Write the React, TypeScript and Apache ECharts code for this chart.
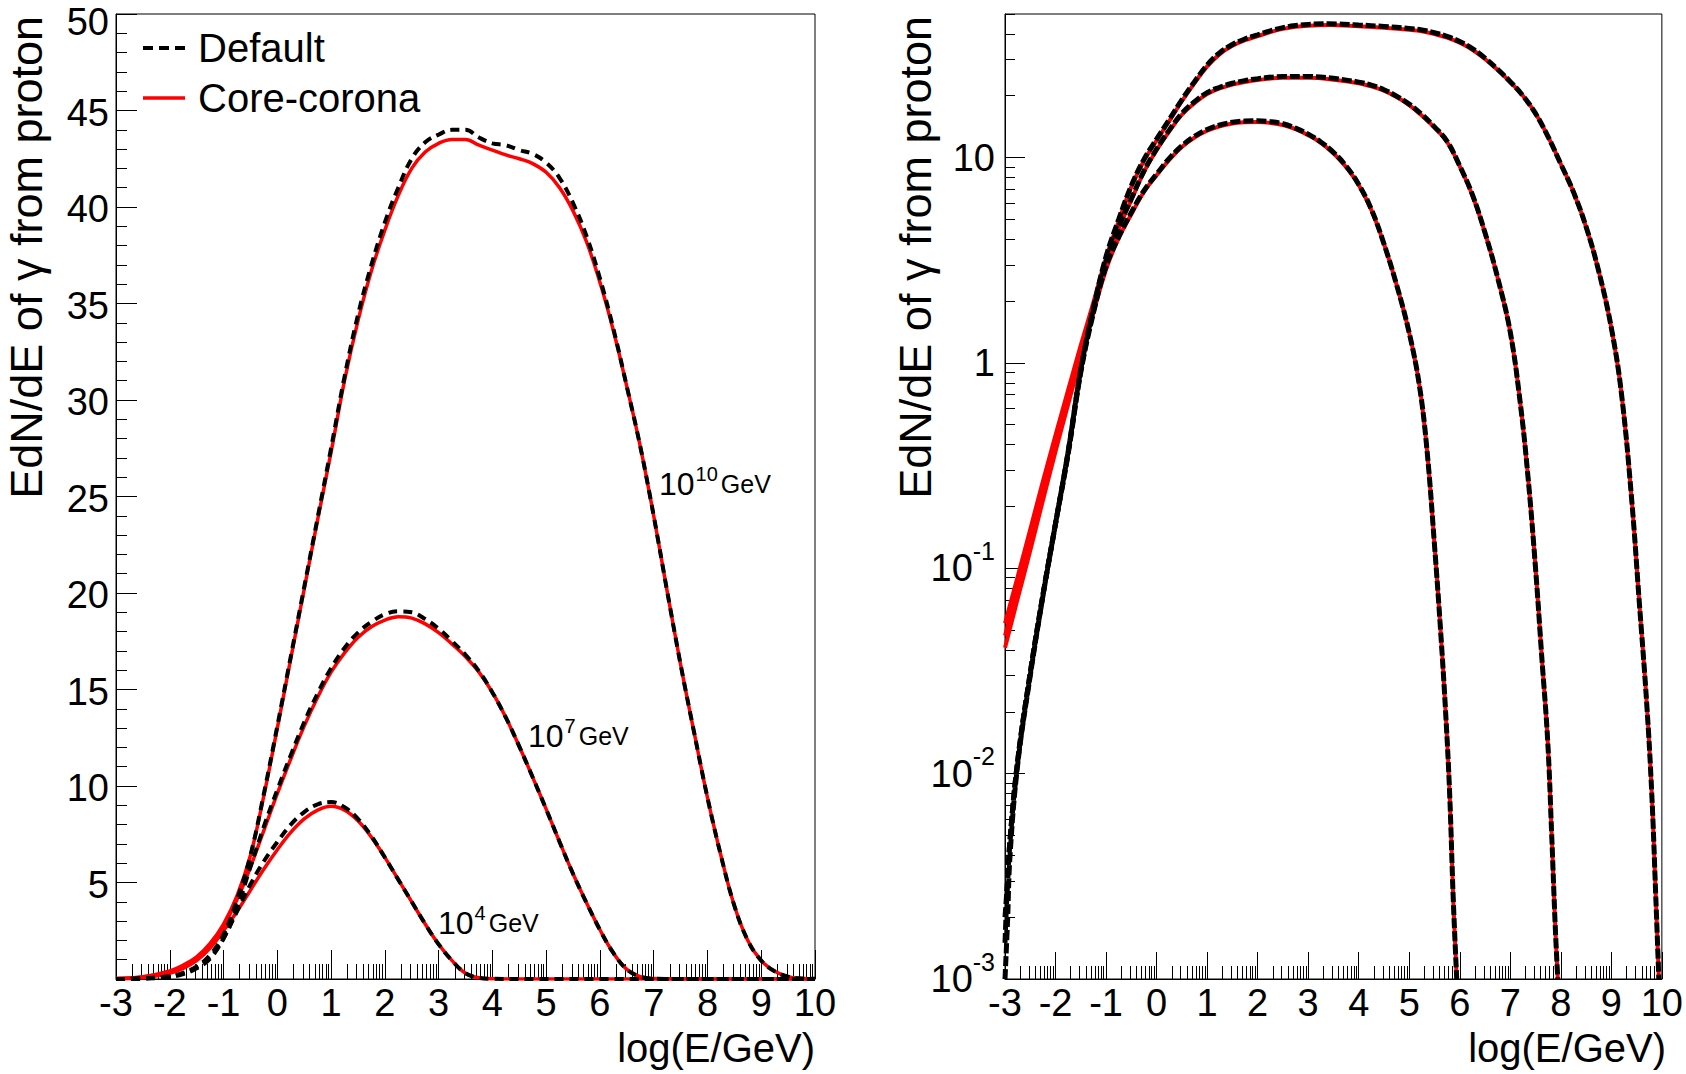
import React, { useEffect, useRef } from 'react';
import * as echarts from 'echarts';

const FONT = '"Liberation Sans", Arial, Helvetica, sans-serif';

// ---------- Left panel (linear y) ----------
const left1e4CoreCorona = [[-3,0.01],[-2.5,0.07],[-2,0.3],[-1.75,0.55],[-1.5,0.95],[-1.25,1.6],[-1,2.5],[-0.75,3.5],[-0.5,4.6],[-0.25,5.7],[0,6.7],[0.25,7.6],[0.5,8.3],[0.75,8.75],[1,8.95],[1.25,8.75],[1.5,8.2],[1.75,7.35],[2,6.3],[2.25,5.15],[2.5,4.0],[2.75,2.85],[3,1.8],[3.25,0.95],[3.5,0.3],[3.75,0.06],[4,0.01],[4.5,0],[10,0]];
const left1e4Default = [[-3,0],[-2.5,0.02],[-2,0.1],[-1.75,0.25],[-1.5,0.55],[-1.25,1.05],[-1,2.1],[-0.75,3.5],[-0.5,4.9],[-0.25,6.1],[0,7.1],[0.25,8.0],[0.5,8.65],[0.75,9.05],[1,9.17],[1.25,8.9],[1.5,8.3],[1.75,7.4],[2,6.3],[2.25,5.15],[2.5,4.0],[2.75,2.85],[3,1.8],[3.25,0.95],[3.5,0.3],[3.75,0.06],[4,0.01],[4.5,0],[10,0]];

const left1e7CoreCorona = [[-3,0.02],[-2.5,0.1],[-2,0.38],[-1.75,0.68],[-1.5,1.1],[-1.25,1.8],[-1,2.75],[-0.75,4.1],[-0.5,5.8],[-0.25,7.7],[0,9.6],[0.25,11.4],[0.5,13.1],[0.75,14.6],[1,15.9],[1.25,16.9],[1.5,17.7],[1.75,18.25],[2,18.6],[2.25,18.77],[2.5,18.7],[2.75,18.4],[3,17.95],[3.25,17.35],[3.5,16.7],[3.75,15.9],[4,14.85],[4.25,13.55],[4.5,12.05],[4.75,10.45],[5,8.8],[5.25,7.1],[5.5,5.45],[5.75,3.95],[6,2.55],[6.25,1.35],[6.5,0.5],[6.75,0.12],[7,0.02],[7.5,0],[10,0]];
const left1e7Default = [[-3,0],[-2.5,0.03],[-2,0.13],[-1.75,0.3],[-1.5,0.6],[-1.25,1.15],[-1,2.1],[-0.75,3.7],[-0.5,5.8],[-0.25,7.9],[0,9.8],[0.25,11.6],[0.5,13.3],[0.75,14.8],[1,16.1],[1.25,17.15],[1.5,17.95],[1.75,18.5],[2,18.9],[2.25,19.05],[2.5,19.0],[2.75,18.65],[3,18.15],[3.25,17.5],[3.5,16.8],[3.75,15.95],[4,14.85],[4.25,13.55],[4.5,12.05],[4.75,10.45],[5,8.8],[5.25,7.1],[5.5,5.45],[5.75,3.95],[6,2.55],[6.25,1.35],[6.5,0.5],[6.75,0.12],[7,0.02],[7.5,0],[10,0]];

const left1e10CoreCorona = [[-3,0.03],[-2.5,0.12],[-2,0.42],[-1.75,0.72],[-1.5,1.15],[-1.25,1.85],[-1,2.85],[-0.75,4.3],[-0.5,6.4],[-0.25,9.5],[0,13.0],[0.25,16.6],[0.5,20.2],[0.75,23.8],[1,27.3],[1.25,31.0],[1.5,34.1],[1.75,36.7],[2,38.8],[2.25,40.6],[2.5,42.0],[2.75,42.85],[3,43.3],[3.25,43.5],[3.5,43.5],[3.75,43.2],[4,42.95],[4.25,42.7],[4.5,42.5],[4.75,42.25],[5,41.8],[5.25,41.0],[5.5,39.8],[5.75,38.2],[6,36.1],[6.25,33.6],[6.5,30.7],[6.75,27.6],[7,24.0],[7.25,20.1],[7.5,16.3],[7.75,12.8],[8,9.4],[8.25,6.4],[8.5,3.8],[8.75,2.0],[9,0.95],[9.25,0.4],[9.5,0.12],[9.75,0.03],[10,0.01]];
const left1e10Default = [[-3,0],[-2.5,0.03],[-2,0.14],[-1.75,0.32],[-1.5,0.65],[-1.25,1.25],[-1,2.3],[-0.75,4.1],[-0.5,6.4],[-0.25,9.6],[0,13.1],[0.25,16.7],[0.5,20.3],[0.75,23.9],[1,27.5],[1.25,31.2],[1.5,34.4],[1.75,37.0],[2,39.2],[2.25,41.0],[2.5,42.5],[2.75,43.35],[3,43.75],[3.25,44.0],[3.5,44.0],[3.75,43.6],[4,43.3],[4.25,43.2],[4.5,42.95],[4.75,42.75],[5,42.3],[5.25,41.5],[5.5,40.2],[5.75,38.5],[6,36.3],[6.25,33.7],[6.5,30.7],[6.75,27.6],[7,24.0],[7.25,20.1],[7.5,16.3],[7.75,12.8],[8,9.4],[8.25,6.4],[8.5,3.8],[8.75,2.0],[9,0.95],[9.25,0.4],[9.5,0.12],[9.75,0.03],[10,0.01]];

// ---------- Right panel (log y) ----------
const right1e6CoreCorona = [[-3,0.041],[-2.75,0.071],[-2.5,0.122],[-2.25,0.214],[-2,0.37],[-1.75,0.63],[-1.5,1.06],[-1.25,1.75],[-1,2.85],[-0.75,4.05],[-0.5,5.3],[-0.25,6.8],[0,8.2],[0.25,9.75],[0.5,11.25],[0.75,12.5],[1,13.5],[1.25,14.2],[1.5,14.65],[1.75,14.85],[2,14.9],[2.25,14.75],[2.5,14.4],[2.75,13.75],[3,12.85],[3.25,11.8],[3.5,10.5],[3.75,9.0],[4,7.35],[4.25,5.55],[4.5,3.8],[4.75,2.4],[5,1.4],[5.2,0.78],[5.35,0.38],[5.5,0.13],[5.62,0.05],[5.72,0.02],[5.8,0.008],[5.87,0.0025],[5.94,0.001]];
const right1e6Default = [[-3,0.002],[-2.95,0.003],[-2.9,0.0048],[-2.75,0.0115],[-2.5,0.031],[-2.25,0.074],[-2,0.165],[-1.75,0.36],[-1.5,0.9],[-1.25,1.75],[-1,2.95],[-0.75,4.1],[-0.5,5.4],[-0.25,6.9],[0,8.3],[0.25,9.9],[0.5,11.4],[0.75,12.7],[1,13.7],[1.25,14.4],[1.5,14.85],[1.75,15.05],[2,15.1],[2.25,14.95],[2.5,14.6],[2.75,13.9],[3,13.0],[3.25,11.9],[3.5,10.6],[3.75,9.1],[4,7.4],[4.25,5.6],[4.5,3.8],[4.75,2.4],[5,1.4],[5.2,0.78],[5.35,0.38],[5.5,0.13],[5.62,0.05],[5.72,0.02],[5.8,0.008],[5.87,0.0025],[5.94,0.001]];

const right1e8CoreCorona = [[-3,0.047],[-2.75,0.08],[-2.5,0.138],[-2.25,0.24],[-2,0.405],[-1.75,0.68],[-1.5,1.14],[-1.25,1.86],[-1,3.05],[-0.75,4.5],[-0.5,6.2],[-0.25,8.5],[0,10.85],[0.25,13.4],[0.5,16.15],[0.75,18.4],[1,20.4],[1.25,21.7],[1.5,22.65],[1.75,23.35],[2,23.85],[2.5,24.45],[3,24.45],[3.5,23.95],[4,23.0],[4.25,22.2],[4.5,21.15],[4.75,19.7],[5,18.0],[5.25,16.0],[5.5,14.0],[5.75,11.9],[6,9.05],[6.25,6.55],[6.5,4.3],[6.75,2.6],[7,1.41],[7.2,0.63],[7.35,0.28],[7.5,0.1],[7.62,0.038],[7.74,0.0145],[7.82,0.005],[7.89,0.0018],[7.94,0.001]];
const right1e8Default = [[-3,0.0015],[-2.95,0.003],[-2.9,0.0048],[-2.75,0.0115],[-2.5,0.031],[-2.25,0.074],[-2,0.165],[-1.75,0.37],[-1.5,0.92],[-1.25,1.8],[-1,3.1],[-0.75,4.6],[-0.5,6.3],[-0.25,8.6],[0,11.0],[0.25,13.6],[0.5,16.4],[0.75,18.7],[1,20.7],[1.25,22.0],[1.5,23.0],[1.75,23.7],[2,24.2],[2.5,24.8],[3,24.8],[3.5,24.3],[4,23.3],[4.25,22.5],[4.5,21.4],[4.75,19.9],[5,18.2],[5.25,16.2],[5.5,14.1],[5.75,12.0],[6,9.1],[6.25,6.6],[6.5,4.3],[6.75,2.6],[7,1.41],[7.2,0.63],[7.35,0.28],[7.5,0.1],[7.62,0.038],[7.74,0.0145],[7.82,0.005],[7.89,0.0018],[7.94,0.001]];

const right1e10CoreCorona = [[-3,0.054],[-2.75,0.091],[-2.5,0.155],[-2.25,0.265],[-2,0.445],[-1.75,0.74],[-1.5,1.22],[-1.25,1.97],[-1,3.25],[-0.75,4.9],[-0.5,7.2],[-0.25,9.65],[0,12.1],[0.25,15.05],[0.5,18.8],[0.75,23.05],[1,27.8],[1.25,31.9],[1.5,35.0],[1.75,37.25],[2,39.0],[2.25,40.8],[2.5,42.3],[2.75,43.3],[3,43.85],[3.4,44.15],[4,43.55],[4.5,42.85],[5,41.9],[5.25,41.2],[5.5,39.9],[5.75,38.35],[6,36.2],[6.25,33.5],[6.5,30.2],[6.75,26.7],[7,23.3],[7.25,20.0],[7.5,16.4],[7.75,12.6],[8,9.3],[8.25,6.8],[8.5,4.6],[8.75,2.8],[9,1.48],[9.2,0.71],[9.4,0.22],[9.55,0.07],[9.7,0.022],[9.8,0.008],[9.88,0.0025],[9.94,0.001]];
const right1e10Default = [[-3,0.001],[-2.95,0.0019],[-2.9,0.004],[-2.75,0.011],[-2.5,0.03],[-2.25,0.073],[-2,0.165],[-1.75,0.37],[-1.5,0.93],[-1.25,1.85],[-1,3.3],[-0.75,5.0],[-0.5,7.3],[-0.25,9.8],[0,12.3],[0.25,15.3],[0.5,19.1],[0.75,23.4],[1,28.2],[1.25,32.4],[1.5,35.5],[1.75,37.8],[2,39.6],[2.25,41.4],[2.5,42.9],[2.75,43.9],[3,44.5],[3.4,44.8],[4,44.2],[4.5,43.5],[5,42.5],[5.25,41.8],[5.5,40.5],[5.75,38.9],[6,36.7],[6.25,33.9],[6.5,30.5],[6.75,26.9],[7,23.4],[7.25,20.0],[7.5,16.4],[7.75,12.6],[8,9.3],[8.25,6.8],[8.5,4.6],[8.75,2.8],[9,1.48],[9.2,0.71],[9.4,0.22],[9.55,0.07],[9.7,0.022],[9.8,0.008],[9.88,0.0025],[9.94,0.001]];

// ---------- Axis ticks ----------
const xMajorTicks = [-3,-2,-1,0,1,2,3,4,5,6,7,8,9,10];
const xMinorTicks: number[] = [];
for (let n = -3; n < 10; n++) for (let k = 2; k <= 9; k++) xMinorTicks.push(n + Math.log10(k));
const logMajorTicks = [0.001, 0.01, 0.1, 1, 10];
const logMinorTicks: number[] = [];
for (let e = -3; e <= 1; e++) for (let k = 2; k <= 9; k++) {
  const v = parseFloat((k * Math.pow(10, e)).toPrecision(3));
  if (v <= 50) logMinorTicks.push(v);
}

const legendItems = [
  { name: 'Default', color: '#000000', dash: [10, 6], width: 4, y: 48 },
  { name: 'Core-corona', color: '#ff0000', dash: null, width: 3.5, y: 98 },
];

const energyLabels = [
  { base: '10', sup: '10', x: 659, y: 484 },
  { base: '10', sup: '7', x: 528, y: 736 },
  { base: '10', sup: '4', x: 438, y: 923 },
];

const RED = '#ff0000';
const BLACK = '#000000';

function redLine(name: string, data: number[][], xi: number, yi: number, width: number) {
  return {
    type: 'line', name, data, xAxisIndex: xi, yAxisIndex: yi,
    symbol: 'none', showSymbol: false, smooth: 0.4,
    lineStyle: { color: RED, width, type: 'solid' }, itemStyle: { color: RED },
    z: 2, silent: true,
  };
}
function blackLine(name: string, data: number[][], xi: number, yi: number, width: number, dash: number[]) {
  return {
    type: 'line', name, data, xAxisIndex: xi, yAxisIndex: yi,
    symbol: 'none', showSymbol: false, smooth: 0.4,
    lineStyle: { color: BLACK, width, type: dash }, itemStyle: { color: BLACK },
    z: 3, silent: true,
  };
}

function makeXAxes(grid: number, majorLen: number, minorLen: number) {
  return [
    {
      type: 'value', gridIndex: grid, min: -3, max: 10, interval: 1, position: 'bottom',
      axisLine: { show: true, onZero: false, lineStyle: { color: '#000', width: 1 } },
      axisTick: { show: true, inside: true, length: majorLen, customValues: xMajorTicks, lineStyle: { color: '#000', width: 1 } },
      axisLabel: { show: true, customValues: xMajorTicks, margin: 5, color: '#000', fontSize: 38, fontFamily: FONT },
      splitLine: { show: false },
    },
    {
      type: 'value', gridIndex: grid, min: -3, max: 10, interval: 1, position: 'bottom',
      axisLine: { show: false, onZero: false },
      axisTick: { show: true, inside: true, length: minorLen, customValues: xMinorTicks, lineStyle: { color: '#000', width: 1 } },
      axisLabel: { show: false },
      splitLine: { show: false },
    },
  ];
}

const textStyleBase = { fill: '#000', align: 'right', textAlign: 'right', verticalAlign: 'middle', textVerticalAlign: 'middle' };

const option: any = {
  animation: false,
  backgroundColor: '#ffffff',
  grid: [
    { left: 116, top: 14, width: 699, height: 965, show: true, borderColor: '#000', borderWidth: 1, backgroundColor: 'transparent' },
    { left: 1005, top: 14, width: 661, height: 965, show: true, borderColor: '#000', borderWidth: 1, backgroundColor: 'transparent' },
  ],
  xAxis: [...makeXAxes(0, 29, 15), ...makeXAxes(1, 27, 13)],
  yAxis: [
    {
      type: 'value', gridIndex: 0, min: 0, max: 50, interval: 5, position: 'left',
      axisLine: { show: true, onZero: false, lineStyle: { color: '#000', width: 1 } },
      axisTick: { show: true, inside: true, length: 21, lineStyle: { color: '#000', width: 1 } },
      minorTick: { show: true, splitNumber: 5, length: 11, lineStyle: { color: '#000', width: 1 } },
      axisLabel: {
        margin: 7, color: '#000', fontSize: 38, fontFamily: FONT, padding: [4, 0, 0, 0],
        formatter: (v: number) => (v === 0 ? '' : v === 50 ? '{t|50}' : String(v)),
        rich: { t: { fontSize: 38, fontFamily: FONT, color: '#000', padding: [12, 0, 0, 0] } },
      },
      splitLine: { show: false },
    },
    {
      type: 'log', logBase: 10, gridIndex: 1, min: 0.001, max: 50, position: 'left',
      axisLine: { show: true, onZero: false, lineStyle: { color: '#000', width: 1 } },
      axisTick: { show: true, inside: true, length: 20, customValues: logMajorTicks, lineStyle: { color: '#000', width: 1 } },
      axisLabel: {
        customValues: logMajorTicks, margin: 10, color: '#000',
        formatter: (v: number) => {
          const e = Math.round(Math.log10(v));
          if (e === 0) return '{b|1}';
          if (e === 1) return '{b|10}';
          return '{b|10}{s|' + e + '}';
        },
        rich: {
          b: { fontSize: 38, lineHeight: 60, fontFamily: FONT, color: '#000' },
          s: { fontSize: 25, lineHeight: 25, verticalAlign: 'top', fontFamily: FONT, color: '#000' },
        },
      },
      splitLine: { show: false },
    },
    {
      type: 'log', logBase: 10, gridIndex: 1, min: 0.001, max: 50, position: 'left',
      axisLine: { show: false, onZero: false },
      axisTick: { show: true, inside: true, length: 10, customValues: logMinorTicks, lineStyle: { color: '#000', width: 1 } },
      axisLabel: { show: false },
      splitLine: { show: false },
    },
  ],
  series: [
    redLine('Core-corona', left1e4CoreCorona, 0, 0, 3.5),
    redLine('Core-corona', left1e7CoreCorona, 0, 0, 3.5),
    redLine('Core-corona', left1e10CoreCorona, 0, 0, 3.5),
    blackLine('Default', left1e4Default, 0, 0, 4, [9, 6]),
    blackLine('Default', left1e7Default, 0, 0, 4, [9, 6]),
    blackLine('Default', left1e10Default, 0, 0, 4, [9, 6]),
    redLine('Core-corona', right1e6CoreCorona, 2, 1, 4),
    redLine('Core-corona', right1e8CoreCorona, 2, 1, 4),
    redLine('Core-corona', right1e10CoreCorona, 2, 1, 4),
    blackLine('Default', right1e6Default, 2, 1, 5, [10, 3]),
    blackLine('Default', right1e8Default, 2, 1, 5, [10, 3]),
    blackLine('Default', right1e10Default, 2, 1, 5, [10, 3]),
  ],
  graphic: [
    ...legendItems.map((it) => ({
      type: 'line', silent: true, z: 10,
      shape: { x1: 143, y1: it.y, x2: 185, y2: it.y },
      style: { stroke: it.color, lineWidth: it.width, lineDash: it.dash || undefined },
    })),
    ...legendItems.map((it) => ({
      type: 'text', x: 198, y: it.y, silent: true, z: 10,
      style: { text: it.name, font: '40px ' + FONT, fill: '#000', align: 'left', textAlign: 'left', verticalAlign: 'middle', textVerticalAlign: 'middle' },
    })),
    {
      type: 'text', x: 815, y: 1048, silent: true,
      style: { ...textStyleBase, text: 'log(E/GeV)', font: '40px ' + FONT },
    },
    {
      type: 'text', x: 1666, y: 1048, silent: true,
      style: { ...textStyleBase, text: 'log(E/GeV)', font: '40px ' + FONT },
    },
    {
      type: 'text', x: 26, y: 16, rotation: Math.PI / 2, silent: true,
      style: { ...textStyleBase, text: 'EdN/dE of γ from proton', font: '45px ' + FONT },
    },
    {
      type: 'text', x: 915, y: 16, rotation: Math.PI / 2, silent: true,
      style: { ...textStyleBase, text: 'EdN/dE of γ from proton', font: '45px ' + FONT },
    },
    ...energyLabels.map((l) => ({
      type: 'text', x: l.x, y: l.y, silent: true,
      style: {
        text: '{m|' + l.base + '}{s|' + l.sup + '}{g|GeV}',
        align: 'left', textAlign: 'left', verticalAlign: 'middle', textVerticalAlign: 'middle',
        rich: {
          m: { fontSize: 32, lineHeight: 40, fontFamily: FONT, fill: '#000', color: '#000' },
          s: { fontSize: 20, lineHeight: 20, verticalAlign: 'top', fontFamily: FONT, fill: '#000', color: '#000', padding: [0, 3, 0, 1] },
          g: { fontSize: 25, lineHeight: 40, verticalAlign: 'middle', fontFamily: FONT, fill: '#000', color: '#000' },
        },
      },
    })),
  ],
};

export default function App() {
  const ref = useRef<HTMLDivElement>(null);
  useEffect(() => {
    if (!ref.current) return;
    const chart = echarts.init(ref.current, null, { renderer: 'svg' });
    chart.setOption(option);
    return () => chart.dispose();
  }, []);
  return (
    <div
      ref={ref}
      style={{ position: 'fixed', left: 0, top: 0, width: 1686, height: 1074, background: '#fff' }}
    />
  );
}
